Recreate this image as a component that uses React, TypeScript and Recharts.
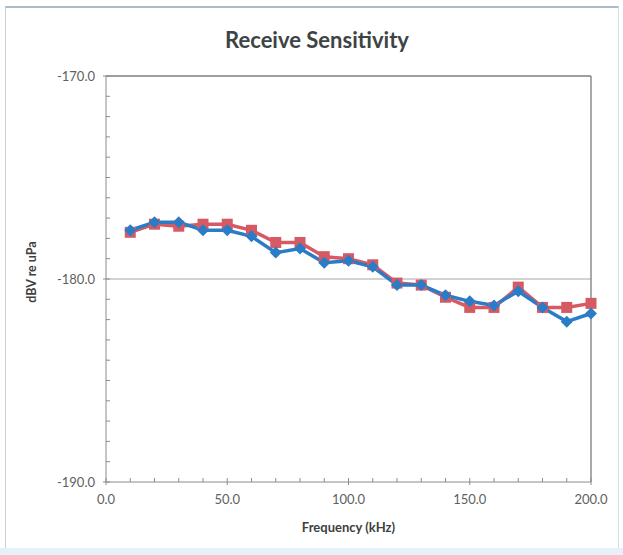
import React from 'react';
import { LineChart, Line, XAxis, YAxis, ReferenceLine } from 'recharts';

const frequencies = [10, 20, 30, 40, 50, 60, 70, 80, 90, 100, 110, 120, 130, 140, 150, 160, 170, 180, 190, 200];
const redSeries = [-177.7, -177.3, -177.4, -177.3, -177.3, -177.6, -178.2, -178.2, -178.9, -179.0, -179.3, -180.2, -180.3, -180.9, -181.4, -181.4, -180.4, -181.4, -181.4, -181.2];
const blueSeries = [-177.6, -177.2, -177.2, -177.6, -177.6, -177.9, -178.7, -178.5, -179.2, -179.1, -179.4, -180.3, -180.3, -180.8, -181.1, -181.3, -180.6, -181.4, -182.1, -181.7];
const xTicks = [0, 10, 20, 30, 40, 50, 60, 70, 80, 90, 100, 110, 120, 130, 140, 150, 160, 170, 180, 190, 200];
const xLabelTicks = [0, 50, 100, 150, 200];
const yTicks = [-190, -189, -188, -187, -186, -185, -184, -183, -182, -181, -180, -179, -178, -177, -176, -175, -174, -173, -172, -171, -170];
const yLabelTicks = [-190, -180, -170];

const data = frequencies.map((f, i) => ({ f, red: redSeries[i], blue: blueSeries[i] }));

const FONT = 'Lato, "Open Sans", sans-serif';
const AXIS = '#8c8c8c';
const LABEL = '#5f5f5f';
const RED = '#d65a64';
const BLUE = '#2a7cc6';

const XTick = (props: any) => {
  const { x, y, payload } = props;
  const v = payload.value;
  const major = xLabelTicks.includes(v);
  return (
    <g>
      <line x1={x} x2={x} y1={y - 4} y2={major ? y + 3 : y} stroke={AXIS} strokeWidth={1} />
      {major && (
        <text x={x} y={y + 22} textAnchor="middle" fill={LABEL} fontSize={13} fontFamily={FONT}>
          {v.toFixed(1)}
        </text>
      )}
    </g>
  );
};

const YTick = (props: any) => {
  const { x, y, payload } = props;
  const v = payload.value;
  const major = yLabelTicks.includes(v);
  return (
    <g>
      <line x1={major ? x - 3 : x} x2={x + 4} y1={y} y2={y} stroke={AXIS} strokeWidth={1} />
      {major && (
        <text x={x - 11} y={y + 4.5} textAnchor="end" fill={LABEL} fontSize={13} fontFamily={FONT}>
          {v.toFixed(1)}
        </text>
      )}
    </g>
  );
};

const SquareDot = (props: any) => {
  const { cx, cy, index } = props;
  if (cx == null || cy == null) return <g key={`s${index}`} />;
  return <rect key={`s${index}`} x={cx - 5.5} y={cy - 5.5} width={11} height={11} fill={RED} />;
};

const DiamondDot = (props: any) => {
  const { cx, cy, index } = props;
  if (cx == null || cy == null) return <g key={`d${index}`} />;
  const r = 6;
  return (
    <path
      key={`d${index}`}
      d={`M${cx},${cy - r} L${cx + r},${cy} L${cx},${cy + r} L${cx - r},${cy} Z`}
      fill={BLUE}
    />
  );
};

export default function App() {
  return (
    <div style={{ position: 'absolute', left: 0, top: 0, width: 623, height: 555, background: '#ffffff', overflow: 'hidden' }}>
      <div
        style={{
          position: 'absolute',
          left: 5,
          top: 6,
          width: 612,
          height: 542,
          borderTop: '2px solid #a9bccd',
          borderLeft: '1px solid #c9cfd6',
          borderRight: '1px solid #d3e0ec',
          borderBottom: '1px solid #d3e0ec',
        }}
      />
      <div style={{ position: 'absolute', left: 0, top: 548, width: 623, height: 7, background: '#e6f0f8' }} />
      <div
        style={{
          position: 'absolute',
          left: 0,
          top: 26,
          width: 634,
          textAlign: 'center',
          fontFamily: FONT,
          fontWeight: 700,
          fontSize: 22,
          color: '#3d4444',
          lineHeight: '28px',
        }}
      >
        Receive Sensitivity
      </div>
      <div style={{ position: 'absolute', left: 0, top: 0 }}>
        <LineChart width={623} height={555} data={data} margin={{ top: 76, right: 32, bottom: 23, left: 46 }}>
          <XAxis
            dataKey="f"
            type="number"
            domain={[0, 200]}
            ticks={xTicks}
            interval={0}
            tickSize={0}
            tickMargin={0}
            tickLine={false}
            axisLine={{ stroke: AXIS, strokeWidth: 1 }}
            tick={<XTick />}
            height={50}
            label={{
              content: (p: any) => {
                const vb = p.viewBox || {};
                return (
                  <text
                    x={vb.x + vb.width / 2}
                    y={532}
                    textAnchor="middle"
                    fill="#404040"
                    fontSize={13}
                    fontWeight={700}
                    fontFamily={FONT}
                  >
                    Frequency (kHz)
                  </text>
                );
              },
            }}
          />
          <YAxis
            type="number"
            domain={[-190, -170]}
            ticks={yTicks}
            interval={0}
            width={60}
            tickSize={0}
            tickMargin={0}
            tickLine={false}
            axisLine={{ stroke: AXIS, strokeWidth: 1 }}
            tick={<YTick />}
            allowDataOverflow
            label={{
              content: () => (
                <text
                  x={36}
                  y={272}
                  transform="rotate(-90 36 272)"
                  textAnchor="middle"
                  fill="#404040"
                  fontSize={12.5}
                  fontWeight={700}
                  fontFamily={FONT}
                >
                  dBV re uPa
                </text>
              ),
            }}
          />
          <ReferenceLine y={-180} stroke="#a6a6a6" strokeWidth={1} />
          <ReferenceLine y={-170} stroke="#7f7f7f" strokeWidth={1.5} />
          <ReferenceLine x={200} stroke="#8c8c8c" strokeWidth={1.5} />
          <Line
            dataKey="red"
            stroke={RED}
            strokeWidth={3.5}
            dot={SquareDot}
            activeDot={false}
            isAnimationActive={false}
          />
          <Line
            dataKey="blue"
            stroke={BLUE}
            strokeWidth={3.5}
            dot={DiamondDot}
            activeDot={false}
            isAnimationActive={false}
          />
        </LineChart>
      </div>
    </div>
  );
}
